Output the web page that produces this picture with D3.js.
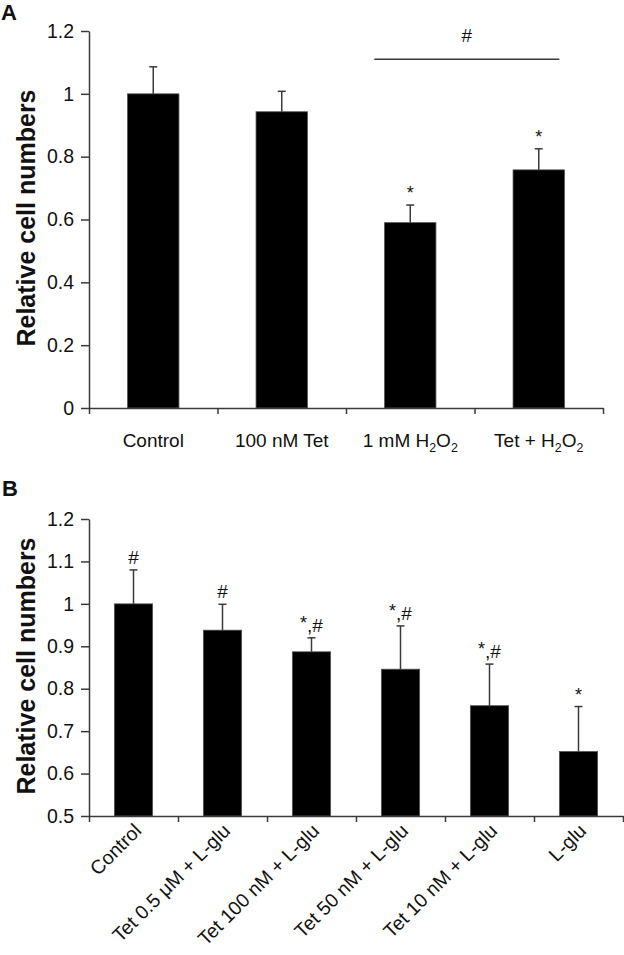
<!DOCTYPE html>
<html>
<head>
<meta charset="utf-8">
<script src="https://cdn.jsdelivr.net/npm/d3@7"></script>
<style>
  html, body { margin: 0; padding: 0; background: #fff; }
  svg { display: block; }
  text { font-family: "Liberation Sans", Arial, Helvetica, sans-serif; fill: #111; }
</style>
</head>
<body>
<svg id="chart" width="624" height="955"></svg>
<script>
// ---------- Data ----------
// Panel A
const catsA = ["Control", "100 nM Tet", "1 mM H2O2", "Tet + H2O2"];
const valuesA = [1.0, 0.943, 0.590, 0.758];
const errorsA = [0.086, 0.065, 0.056, 0.067];
const marksA = ["", "", "*", "*"];
const ticksA = [0, 0.2, 0.4, 0.6, 0.8, 1, 1.2];
const bracketA = { from: 2, to: 3, value: 1.11, label: "#" };

// Panel B
const catsB = ["Control", "Tet 0.5 \u03bcM + L-glu", "Tet 100 nM + L-glu", "Tet 50 nM + L-glu", "Tet 10 nM + L-glu", "L-glu"];
const valuesB = [1.0, 0.938, 0.887, 0.846, 0.760, 0.652];
const errorsB = [0.080, 0.061, 0.033, 0.102, 0.098, 0.106];
const marksB = ["#", "#", "*,#", "*,#", "*,#", "*"];
const ticksB = [0.5, 0.6, 0.7, 0.8, 0.9, 1, 1.1, 1.2];

const yLabel = "Relative cell numbers";

// ---------- Drawing ----------
const svg = d3.select("#chart");
const AXIS = "#3a3a3a";
const TICK_FS = 19.5;
const XLAB_FS = 19;

function drawLabelWithSub(g, label, x, y, size) {
  const t = g.append("text").attr("x", x).attr("y", y).attr("text-anchor", "middle")
    .style("font-size", size + "px");
  const parts = label.split(/(H2O2)/);
  parts.forEach(p => {
    if (p === "H2O2") {
      t.append("tspan").text("H");
      t.append("tspan").attr("dy", 5).style("font-size", (size * 0.65) + "px").text("2");
      t.append("tspan").attr("dy", -5).text("O");
      t.append("tspan").attr("dy", 5).style("font-size", (size * 0.65) + "px").text("2");
    } else if (p.length) {
      t.append("tspan").text(p);
    }
  });
}

function drawMark(g, mark, x, y) {
  const t = g.append("text").attr("x", x).attr("y", y).attr("text-anchor", "middle")
    .style("font-size", "19px");
  if (mark === "#") {
    t.text("#");
  } else if (mark === "*") {
    t.append("tspan").style("font-size", "18px").text("*");
  } else {
    t.append("tspan").style("font-size", "18px").attr("dy", -3).text("*");
    t.append("tspan").attr("dy", 3).text(",#");
  }
}

function panel(opts) {
  const { cats, values, errors, marks, ticks, yDomain, yRange, xRange, barFrac, g } = opts;
  const y = d3.scaleLinear().domain(yDomain).range(yRange);
  const x = d3.scaleBand().domain(cats).range(xRange).padding(0);
  const xi = d3.scaleLinear().domain([0, cats.length]).range(xRange);
  const bw = x.bandwidth() * barFrac;

  const yAxis = g.append("g").attr("transform", `translate(${xRange[0]},0)`)
    .call(d3.axisLeft(y).tickValues(ticks).tickSize(8).tickPadding(7)
      .tickFormat(d => String(+d.toFixed(2))).tickSizeOuter(0));
  yAxis.attr("font-size", null).attr("font-family", null);
  yAxis.select(".domain").attr("stroke", AXIS).attr("stroke-width", 1.5);
  yAxis.selectAll(".tick line").attr("stroke", AXIS).attr("stroke-width", 1.5);
  yAxis.selectAll(".tick text").style("font-size", TICK_FS + "px").attr("fill", "#111");

  g.selectAll("rect.bar").data(cats).enter().append("rect")
    .attr("x", d => x(d) + x.bandwidth() / 2 - bw / 2)
    .attr("width", bw)
    .attr("y", (d, i) => y(values[i]))
    .attr("height", (d, i) => y(yDomain[0]) - y(values[i]))
    .attr("fill", "#000").attr("stroke", "#555").attr("stroke-width", 0.8);

  const eg = g.append("g").attr("stroke", AXIS).attr("stroke-width", 1.5);
  cats.forEach((c, i) => {
    const cx = x(c) + x.bandwidth() / 2;
    const top = y(values[i] + errors[i]);
    eg.append("line").attr("x1", cx).attr("x2", cx).attr("y1", y(values[i])).attr("y2", top);
    eg.append("line").attr("x1", cx - 4).attr("x2", cx + 4).attr("y1", top).attr("y2", top);
  });

  const xAxis = g.append("g").attr("transform", `translate(0,${yRange[0]})`)
    .call(d3.axisBottom(xi).tickValues(d3.range(cats.length + 1)).tickFormat("").tickSize(6).tickSizeOuter(0));
  xAxis.select(".domain").attr("stroke", AXIS).attr("stroke-width", 1.5);
  xAxis.selectAll(".tick line").attr("stroke", AXIS).attr("stroke-width", 1.5);

  cats.forEach((c, i) => {
    if (!marks[i]) return;
    const cx = x(c) + x.bandwidth() / 2;
    drawMark(g, marks[i], cx, y(values[i] + errors[i]) - 6);
  });

  return { x, y, xi };
}

// Panel A
const gA = svg.append("g");
const A = panel({ cats: catsA, values: valuesA, errors: errorsA, marks: marksA, ticks: ticksA,
  yDomain: [0, 1.2], yRange: [408, 31], xRange: [89, 603], barFrac: 0.4, g: gA });
catsA.forEach(c => drawLabelWithSub(gA, c, A.x(c) + A.x.bandwidth() / 2, 447, XLAB_FS));
{
  const x1 = A.x(catsA[bracketA.from]) + A.x.bandwidth() * 0.22;
  const x2 = A.x(catsA[bracketA.to]) + A.x.bandwidth() * 0.66;
  const yb = A.y(bracketA.value);
  gA.append("line").attr("x1", x1).attr("x2", x2).attr("y1", yb).attr("y2", yb)
    .attr("stroke", AXIS).attr("stroke-width", 1.5);
  gA.append("text").attr("x", (x1 + x2) / 2).attr("y", yb - 17).attr("text-anchor", "middle")
    .style("font-size", "19px").text(bracketA.label);
}
gA.append("text").attr("x", 1).attr("y", 20).style("font-size", "22px").style("font-weight", "bold").text("A");
gA.append("text").attr("transform", "translate(35,218) rotate(-90)").attr("text-anchor", "middle")
  .style("font-size", "25px").style("font-weight", "bold").text(yLabel);

// Panel B
const gB = svg.append("g");
const B = panel({ cats: catsB, values: valuesB, errors: errorsB, marks: marksB, ticks: ticksB,
  yDomain: [0.5, 1.2], yRange: [816, 519], xRange: [89, 623], barFrac: 0.43, g: gB });
catsB.forEach(c => {
  const cx = B.x(c) + B.x.bandwidth() / 2;
  gB.append("text").attr("transform", `translate(${cx + 9},${832}) rotate(-45)`)
    .attr("text-anchor", "end").style("font-size", "19.5px").text(c);
});
gB.append("text").attr("x", 2).attr("y", 496).style("font-size", "22px").style("font-weight", "bold").text("B");
gB.append("text").attr("transform", "translate(35,666) rotate(-90)").attr("text-anchor", "middle")
  .style("font-size", "25px").style("font-weight", "bold").text(yLabel);
</script>
</body>
</html>
